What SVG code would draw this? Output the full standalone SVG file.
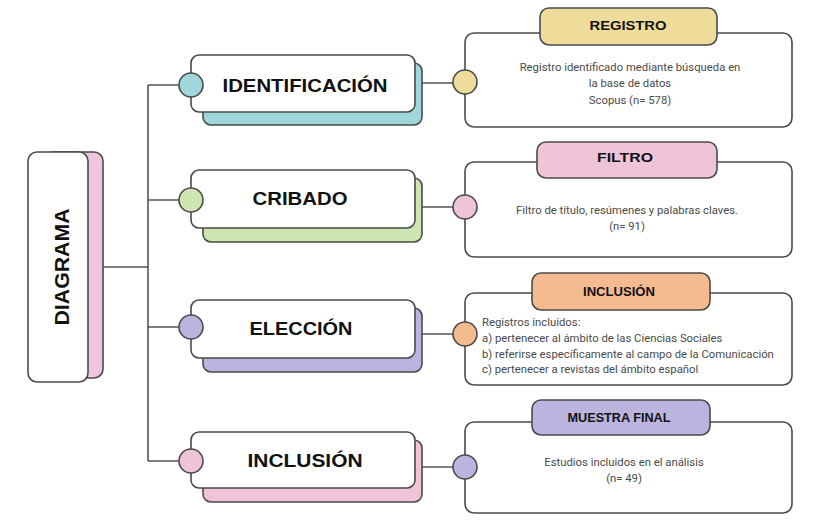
<svg xmlns="http://www.w3.org/2000/svg" width="817" height="525" viewBox="0 0 817 525">
<style>
.bx{stroke:#4a4a4a;stroke-width:1.6}
.w{fill:#ffffff}
.ln{stroke:#555;stroke-width:1.6;fill:none}
.ttl{font-family:"Liberation Sans",Arial,sans-serif;font-weight:bold;fill:#111;text-anchor:middle;dominant-baseline:central}
.hd{font-family:"Liberation Sans",Arial,sans-serif;font-weight:bold;fill:#111;text-anchor:middle;dominant-baseline:central;font-size:12.5px}
.tx{font-family:Roboto,"Liberation Sans",sans-serif;fill:#4a4a4a;font-size:11.3px}
.c{text-anchor:middle}
</style>
<rect width="817" height="525" fill="#ffffff"/>
<g id="connectors">
<path class="ln" d="M103 267H148M148 85V461M148 85H180M148 200H180M148 327H180M148 461H180"/>
<path class="ln" d="M415 83H454M415 207H454M415 334H454M415 467H454"/>
</g>
<g id="diagrama">
<rect class="bx" x="43" y="152" width="60" height="226" rx="9" fill="#efc6dc"/>
<rect class="bx w" x="28" y="152" width="60" height="230" rx="9"/>
<text class="ttl" transform="translate(62 267) rotate(-90)" font-size="20" textLength="117" lengthAdjust="spacingAndGlyphs">DIAGRAMA</text>
</g>
<g id="identificacion">
<rect class="bx" x="203" y="63" width="219" height="62" rx="8" fill="#9fd6dc"/>
<rect class="bx w" x="191" y="55" width="224" height="57" rx="8"/>
<circle class="bx" cx="191" cy="85" r="12" fill="#9fd6dc"/>
<text class="ttl" x="305" y="85" font-size="19" textLength="165" lengthAdjust="spacingAndGlyphs">IDENTIFICACIÓN</text>
</g>
<g id="cribado">
<rect class="bx" x="203" y="178" width="219" height="64" rx="8" fill="#cde5b1"/>
<rect class="bx w" x="191" y="170" width="224" height="58" rx="8"/>
<circle class="bx" cx="191" cy="200" r="12" fill="#cde5b1"/>
<text class="ttl" x="300" y="198" font-size="19" textLength="95" lengthAdjust="spacingAndGlyphs">CRIBADO</text>
</g>
<g id="eleccion">
<rect class="bx" x="203" y="308" width="219" height="64" rx="8" fill="#bab4df"/>
<rect class="bx w" x="191" y="300" width="224" height="58" rx="8"/>
<circle class="bx" cx="191" cy="327" r="12" fill="#bab4df"/>
<text class="ttl" x="301" y="328" font-size="19" textLength="103" lengthAdjust="spacingAndGlyphs">ELECCIÓN</text>
</g>
<g id="inclusion">
<rect class="bx" x="203" y="440" width="219" height="62" rx="8" fill="#efc4d8"/>
<rect class="bx w" x="191" y="432" width="224" height="56" rx="8"/>
<circle class="bx" cx="191" cy="461" r="12" fill="#efc4d8"/>
<text class="ttl" x="305" y="460" font-size="19" textLength="115" lengthAdjust="spacingAndGlyphs">INCLUSIÓN</text>
</g>
<g id="registro">
<rect class="bx w" x="465" y="33" width="327" height="94" rx="9"/>
<rect class="bx" x="540" y="8" width="177" height="37" rx="9" fill="#efdc9b"/>
<text class="hd" x="628" y="26" textLength="77" lengthAdjust="spacingAndGlyphs">REGISTRO</text>
<circle class="bx" cx="465" cy="82" r="12" fill="#efdc9b"/>
<text class="tx c" x="630" y="71">Registro identificado mediante búsqueda en</text>
<text class="tx c" x="630" y="87">la base de datos</text>
<text class="tx c" x="630" y="104">Scopus (n= 578)</text>
</g>
<g id="filtro">
<rect class="bx w" x="465" y="162" width="327" height="95" rx="9"/>
<rect class="bx" x="537" y="142" width="180" height="36" rx="9" fill="#efc4d8"/>
<text class="hd" x="625" y="158" textLength="56" lengthAdjust="spacingAndGlyphs">FILTRO</text>
<circle class="bx" cx="465" cy="207" r="12" fill="#efc4d8"/>
<text class="tx c" x="627" y="214">Filtro de título, resúmenes y palabras claves.</text>
<text class="tx c" x="627" y="230">(n= 91)</text>
</g>
<g id="inclusion-box">
<rect class="bx w" x="465" y="293" width="327" height="92" rx="9"/>
<rect class="bx" x="532" y="273" width="178" height="37" rx="9" fill="#f4ba90"/>
<text class="hd" x="619" y="292" textLength="72" lengthAdjust="spacingAndGlyphs" font-size="11">INCLUSIÓN</text>
<circle class="bx" cx="465" cy="334" r="12" fill="#f4ba90"/>
<text class="tx" x="482" y="326">Registros incluidos:</text>
<text class="tx" x="482" y="342">a) pertenecer al ámbito de las Ciencias Sociales</text>
<text class="tx" x="482" y="358">b) referirse específicamente al campo de la Comunicación</text>
<text class="tx" x="482" y="373">c) pertenecer a revistas del ámbito español</text>
</g>
<g id="muestra">
<rect class="bx w" x="465" y="422" width="327" height="91" rx="9"/>
<rect class="bx" x="532" y="400" width="178" height="35" rx="9" fill="#bab4df"/>
<text class="hd" x="619" y="418" textLength="103" lengthAdjust="spacingAndGlyphs" font-size="11">MUESTRA FINAL</text>
<circle class="bx" cx="465" cy="467" r="12" fill="#bab4df"/>
<text class="tx c" x="624" y="466">Estudios incluidos en el análisis</text>
<text class="tx c" x="624" y="482">(n= 49)</text>
</g>
</svg>
